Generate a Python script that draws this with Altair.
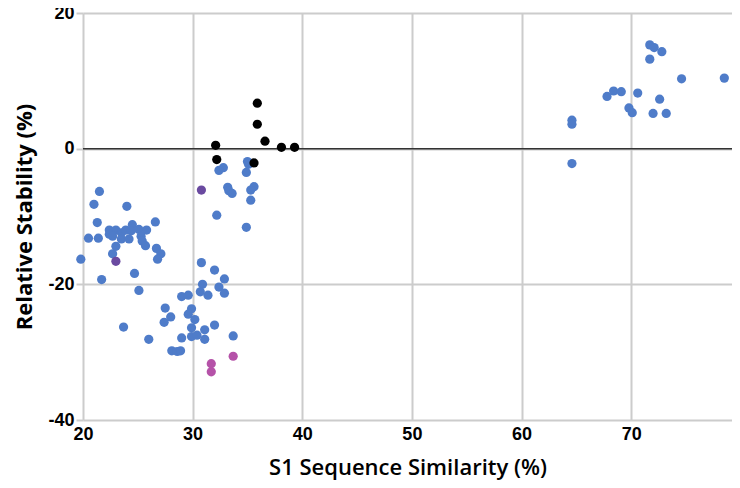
import altair as alt
import pandas as pd

# Blue (main) series
blue_x = [71.7, 72.1, 72.8, 71.7, 74.6, 78.5, 67.8, 68.4, 69.1, 70.6, 72.6, 69.8, 70.1, 72.0, 73.2,
          64.6, 64.6, 64.6,
          35.1, 32.8, 32.4, 34.9, 33.2, 33.3, 33.6, 35.6, 35.3, 35.3, 32.2, 34.9, 35.0,
          21.5, 21.0, 24.0, 21.3, 26.6, 20.5, 21.4,
          22.4, 23.0, 22.4, 23.5, 23.9, 24.5, 24.4, 25.1, 25.8, 25.3, 25.4, 25.7, 23.0, 23.5, 24.2, 22.7,
          22.7, 26.7, 27.1, 26.8, 19.8, 24.7, 21.7, 25.1, 23.7, 26.0, 27.5, 27.4,
          30.8, 32.0, 32.9, 30.9, 32.4, 30.7, 31.4, 32.9, 29.0, 29.6, 28.0, 29.9, 29.6, 30.2, 29.9,
          31.1, 32.0, 29.0, 29.9, 30.4, 31.1, 33.7, 28.1, 28.6, 28.9]
blue_y = [15.3, 14.9, 14.3, 13.2, 10.3, 10.4, 7.7, 8.5, 8.4, 8.2, 7.3, 6.0, 5.3, 5.2, 5.2,
          4.2, 3.6, -2.2,
          -2.3, -2.8, -3.2, -3.5, -5.7, -6.2, -6.6, -5.6, -6.1, -7.6, -9.8, -11.6, -1.9,
          -6.3, -8.2, -8.5, -10.9, -10.8, -13.2, -13.2,
          -12.0, -12.0, -12.6, -12.4, -12.0, -11.2, -12.1, -11.9, -12.0, -12.9, -13.6, -14.3, -14.4, -13.3, -13.3, -12.9,
          -15.5, -14.7, -15.5, -16.3, -16.3, -18.4, -19.3, -20.9, -26.3, -28.1, -23.5, -25.6,
          -16.8, -17.9, -19.2, -20.0, -20.4, -21.1, -21.6, -21.3, -21.8, -21.6, -24.8, -23.6, -24.4, -25.2, -26.4,
          -26.7, -26.0, -27.9, -27.7, -27.5, -28.1, -27.6, -29.8, -29.9, -29.8]

black_x = [35.9, 35.9, 36.6, 32.1, 38.1, 39.3, 32.2, 35.6]
black_y = [6.7, 3.6, 1.1, 0.5, 0.2, 0.2, -1.6, -2.1]

purple_x = [30.8, 23.0]
purple_y = [-6.1, -16.6]

pink_x = [33.7, 31.7, 31.7]
pink_y = [-30.6, -31.7, -32.9]

groups = ["blue", "black", "purple", "pink"]
colors = ["#4f7cc9", "#000000", "#6a4aa0", "#b552a8"]

rows = []
for g, xs, ys in [("blue", blue_x, blue_y), ("black", black_x, black_y),
                  ("purple", purple_x, purple_y), ("pink", pink_x, pink_y)]:
    for a, b in zip(xs, ys):
        rows.append({"x": a, "y": b, "g": g})
df = pd.DataFrame(rows)

x_ticks = [20, 30, 40, 50, 60, 70]
y_ticks = [-40, -20, 0, 20]

xaxis = alt.Axis(values=x_ticks, title="S1 Sequence Similarity (%)", grid=True, gridColor="#cccccc",
                 gridWidth=2, domain=False, ticks=False, labelFlush=False, labelFont="Liberation Sans",
                 labelFontWeight="bold", labelFontSize=18, labelColor="#000", labelPadding=5,
                 titleFont="Open Sans", titleFontSize=22, titleFontWeight=600, titleColor="#000",
                 titlePadding=14)
yaxis = alt.Axis(values=y_ticks, title="Relative Stability  (%)", grid=True, gridColor="#cccccc",
                 gridWidth=2, domain=False, ticks=True, tickSize=7, tickColor="#cccccc", tickWidth=2,
                 labelFlush=False, labelExpr="'' + datum.value", labelFont="Liberation Sans",
                 labelFontWeight="bold", labelFontSize=18, labelColor="#000", labelPadding=2,
                 titleFont="Open Sans", titleFontSize=22, titleFontWeight="bold", titleColor="#000",
                 titlePadding=11)

points = alt.Chart(df).mark_circle(size=85, opacity=1).encode(
    x=alt.X("x:Q", scale=alt.Scale(domain=[20, 79.2], nice=False, zero=False), axis=xaxis),
    y=alt.Y("y:Q", scale=alt.Scale(domain=[-40, 20], nice=False, zero=False), axis=yaxis),
    color=alt.Color("g:N", scale=alt.Scale(domain=groups, range=colors), legend=None),
)

zero = alt.Chart(pd.DataFrame({"y": [0]})).mark_rule(color="#333333", strokeWidth=1.5).encode(y="y:Q")

chart = alt.layer(zero, points).properties(
    width=649, height=407,
    autosize=alt.AutoSizeParams(type="none"),
    padding={"left": 75, "top": 5, "right": 0, "bottom": 60},
).configure_view(stroke=None)

chart.save("out.html", embed_options={"renderer": "svg", "actions": False})
